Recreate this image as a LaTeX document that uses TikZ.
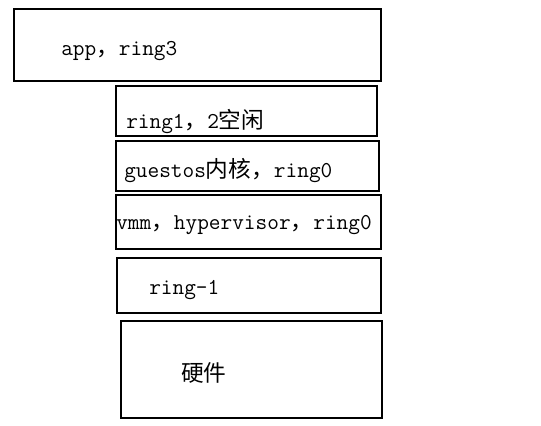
\documentclass[tikz,border=0pt]{standalone}
\usepackage{fontspec}
\newfontfamily\cjk{Noto Sans CJK SC}
\usetikzlibrary{fit}

\tikzset{
  layer/.style={draw, line width=0.8pt, inner sep=0pt},
  tag/.style={font=\ttfamily\fontsize{17}{20}\selectfont, inner sep=0pt, anchor=base west}
}

\begin{document}
\begin{tikzpicture}[x=0.75pt, y=-0.75pt]

    \useasboundingbox (0,0) rectangle (541,425);

    % ====== LAYER BOXES ======
    \node[layer, fit={(14,9) (381,81)}] (app) {};
    \node[layer, fit={(116,86) (377,136)}] (free) {};
    \node[layer, fit={(116,141) (379,191)}] (guest) {};
    \node[layer, fit={(116,195) (381,249)}] (vmm) {};
    \node[layer, fit={(117,258) (381,313)}] (minus) {};
    \node[layer, fit={(121,321) (382,418)}] (hw) {};

    % ====== LABELS ======
    \node[tag] (appt) at (61,55) {app{\cjk ，}ring3};
    \node[tag] (freet) at (126,128) {ring1{\cjk ，}2{\cjk 空闲}};
    \node[tag] (guestt) at (124,177) {guestos{\cjk 内核，}ring0};
    \node[tag] (vmmt) at (116,229) {vmm{\cjk ，}hypervisor{\cjk ，}ring0};
    \node[tag] (minust) at (149,294) {ring-1};
    \node[tag] (hwt) at (181,381) {\cjk 硬件};

  \end{tikzpicture}
\end{document}
